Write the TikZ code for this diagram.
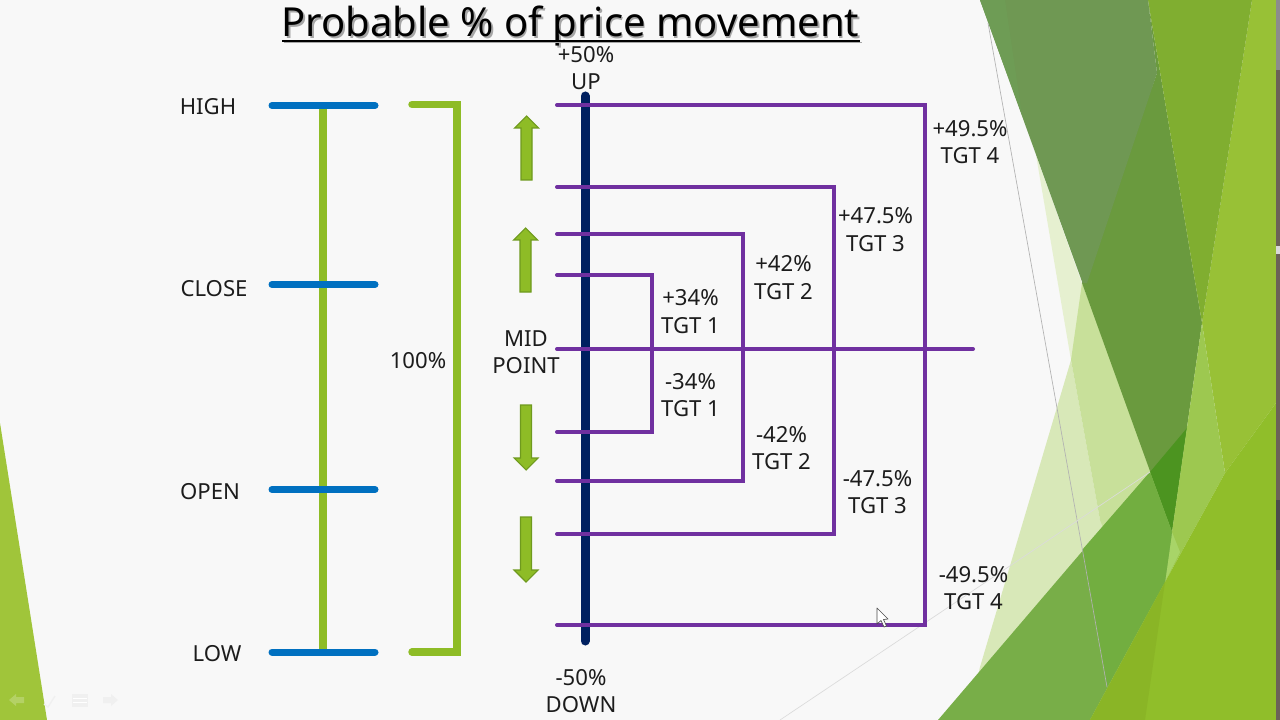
\documentclass[tikz,border=0pt]{standalone}
\usepackage{fontspec}
\setmainfont{Noto Sans}
\definecolor{bg}{HTML}{F8F8F8}
\definecolor{lime}{HTML}{8EBC26}
\definecolor{limeD}{HTML}{6F9A1E}
\definecolor{bluebar}{HTML}{0070C0}
\definecolor{navy}{HTML}{002060}
\definecolor{purp}{HTML}{7030A0}
\definecolor{ink}{HTML}{1C1C1C}
\definecolor{leftg}{HTML}{A0C53A}
\definecolor{olive}{HTML}{6F9853}
\definecolor{olivel}{HTML}{6E9C55}
\definecolor{midg}{HTML}{6A9A3E}
\definecolor{topg}{HTML}{80AE30}
\definecolor{brightg}{HTML}{98C136}
\definecolor{paleA}{HTML}{E6F0D0}
\definecolor{paleB}{HTML}{D8E8B8}
\definecolor{paleC}{HTML}{C8E09A}
\definecolor{lowg}{HTML}{78AE48}
\definecolor{lowgD}{HTML}{72AE40}
\definecolor{deepg}{HTML}{4C9420}
\definecolor{sliver}{HTML}{9DC850}
\definecolor{sliverL}{HTML}{A8D468}
\definecolor{lowb}{HTML}{90BE2A}
\definecolor{lowbD}{HTML}{8AB526}
\definecolor{strip}{HTML}{6B6258}
\tikzset{
  x=0.75pt,y=-0.75pt,
  lab/.style={font=\fontsize{16.6}{20.5}\selectfont,text=ink,align=center,inner sep=0pt},
  titletext/.style={font=\fontsize{30}{34}\selectfont,inner sep=0pt},
  bluetick/.style={draw=bluebar,line width=5.25pt,line cap=round},
  greenbar/.style={draw=lime,line width=5.6pt},
  purpline/.style={draw=purp,line width=3pt,line cap=round,line join=miter},
  navybar/.style={draw=navy,line width=6.75pt,line cap=round},
  blockarrow/.style={draw=limeD,line width=.8pt,fill=lime,line join=miter},
  navicon/.style={fill=black!6,draw=none},
  hairline/.style={draw=black!30,line width=.5pt},
}
% block arrow: centre x, tail y, tip y, head-base y
\newcommand{\blockarrowat}[4]{%
  \draw[blockarrow] (#1-5.5,#2) -- (#1-5.5,#4) -- (#1-12,#4) -- (#1,#3) -- (#1+12,#4) -- (#1+5.5,#4) -- (#1+5.5,#2) -- cycle;}
\begin{document}
\begin{tikzpicture}
\useasboundingbox (0,0) rectangle (1280,720);
% slide background
\fill[bg] (0,0) rectangle (1280,720);
% left decoration
\fill[leftg] (0,423) -- (47,720) -- (0,720) -- cycle;
% right decoration
\fill[paleA] (1036,155) -- (1095,320) -- (1071,360) -- cycle;
\fill[paleB] (1071,360) -- (1100,520) -- (1130,530) -- (975,690) -- (980,667) -- cycle;
\fill[paleC] (1082,283) -- (1170,520) -- (1104,530) -- (1100,520) -- (1071,360) -- cycle;
\fill[brightg] (1252,0) -- (1276,0) -- (1276,403) -- (1225,473) -- (1202,323) -- cycle;
\fill[midg] (1148,0) -- (1202,323) -- (1172,532) -- (1082,283) -- (1157,73) -- cycle;
\fill[topg] (1148,0) -- (1252,0) -- (1202,323) -- cycle;
\fill[olive] (980,0) -- (1148,0) -- (1157,73) -- (1087,283) -- (1082.5,283) -- cycle;
\fill[olivel] (980,0) -- (1005,0) -- (1022,115) -- cycle;
\fill[deepg] (1150,472) -- (1187,428) -- (1172,532) -- cycle;
\fill[sliver] (1202,323) -- (1225,473) -- (1165,582) -- (1172,532) -- cycle;
\fill[sliverL] (1172,532) -- (1180,552) -- (1165,582) -- cycle;
\fill[lowg] (938,720) -- (1150,472) -- (1172,532) -- (1165,582) -- (1090,720) -- cycle;
\fill[lowgD] (1082,550) -- (1150,472) -- (1172,532) -- (1165,582) -- (1107,687) -- cycle;
\fill[lowb] (1090,720) -- (1165,582) -- (1225,473) -- (1276,403) -- (1276,720) -- cycle;
\fill[lowbD] (1165,582) -- (1145,720) -- (1090,720) -- cycle;
\draw[hairline] (988,23) -- (1107,687);
\draw[hairline,draw=black!14] (780,720) -- (1150,472);
% strip at the right edge
\fill[strip] (1276,0) rectangle (1280,720);
\fill[black!45] (1276,0) rectangle (1280,70);
\fill[black!15] (1276,246) rectangle (1280,254);
\fill[black!70] (1276,500) rectangle (1280,570);
% faint slide-show controls
\fill[white,opacity=.22] (9,700) -- (16,694) -- (16,697) -- (24,697) -- (24,703) -- (16,703) -- (16,706) -- cycle;
\draw[black!6,line width=1pt] (44,704) -- (48,707) -- (55,696);
\fill[navicon] (72,694) rectangle (88,707);
\draw[white,line width=.6pt] (73,698) -- (87,698) (73,702) -- (87,702);
\fill[navicon] (118,700) -- (111,694) -- (111,697) -- (103,697) -- (103,703) -- (111,703) -- (111,706) -- cycle;

% title
\node[titletext,text=black!35] at (572,28) {Probable \% of price movement};
\node[titletext,text=black] (title) at (570.5,26.5) {Probable \% of price movement};
\coordinate (ulL) at (282,41);
\coordinate (ulR) at (860,41);
\draw[black!35,line width=1.2pt] ([shift={(1.5,1.5)}]ulL) -- ([shift={(1.5,1.5)}]ulR);
\draw[black,line width=1.4pt] (ulL) -- (ulR);

% left scale
\coordinate (hiL) at (272,105.5); \coordinate (hiR) at (375,105.5);
\coordinate (clL) at (272,284.5); \coordinate (clR) at (375,284.5);
\coordinate (opL) at (272,489.5); \coordinate (opR) at (375,489.5);
\coordinate (loL) at (272,652); \coordinate (loR) at (375,652);
\coordinate (stemT) at (323,105); \coordinate (stemB) at (323,652);
\draw[greenbar,line width=6pt] (stemT) -- (stemB);
\draw[bluetick] (hiL) -- (hiR);
\draw[bluetick] (clL) -- (clR);
\draw[bluetick] (opL) -- (opR);
\draw[bluetick] (loL) -- (loR);
\node[lab] (lHigh) at (208,106.5) {HIGH};
\node[lab] (lClose) at (214,288.5) {CLOSE};
\node[lab] (lOpen) at (210,491.5) {OPEN};
\node[lab] (lLow) at (217,653.5) {LOW};

% 100% bracket
\coordinate (brA) at (412,104.5); \coordinate (brB) at (457,104.5);
\coordinate (brC) at (457,652); \coordinate (brD) at (412,652);
\draw[greenbar,line cap=round,line join=miter] (brA) -- (brB) -- (brC) -- (brD);
\node[lab] (lHundred) at (418,360.5) {100\%};

% central axis
\coordinate (axT) at (585,96); \coordinate (axB) at (585,641);
\draw[navybar] (axT) -- (axB);

% target brackets
\coordinate (t4a) at (557,105); \coordinate (t4b) at (925,105);
\coordinate (t4c) at (925,625); \coordinate (t4d) at (557,625);
\coordinate (t3a) at (557,187); \coordinate (t3b) at (834,187);
\coordinate (t3c) at (834,534); \coordinate (t3d) at (557,534);
\coordinate (t2a) at (557,234); \coordinate (t2b) at (743,234);
\coordinate (t2c) at (743,481); \coordinate (t2d) at (557,481);
\coordinate (t1a) at (557,275); \coordinate (t1b) at (652,275);
\coordinate (t1c) at (652,432); \coordinate (t1d) at (557,432);
\coordinate (midL) at (557,349); \coordinate (midR) at (973,349);
\draw[purpline] (t4a) -- (t4b) -- (t4c) -- (t4d);
\draw[purpline] (t3a) -- (t3b) -- (t3c) -- (t3d);
\draw[purpline] (t2a) -- (t2b) -- (t2c) -- (t2d);
\draw[purpline] (t1a) -- (t1b) -- (t1c) -- (t1d);
\draw[purpline] (midL) -- (midR);

% block arrows
\blockarrowat{526.5}{180}{116}{128}
\blockarrowat{525.5}{292}{228}{240}
\blockarrowat{526}{405}{470}{458}
\blockarrowat{526}{517}{582}{570}

% labels
\node[lab] (lUp) at (586,68) {+50\%\\UP};
\node[lab] (lDown) at (581,691) {-50\%\\DOWN};
\node[lab] (lMid) at (526,352.5) {MID\\POINT};
\node[lab] (p4) at (970,142) {+49.5\%\\TGT 4};
\node[lab] (p3) at (875.5,229.5) {+47.5\%\\TGT 3};
\node[lab] (p2) at (783.5,277.5) {+42\%\\TGT 2};
\node[lab] (p1) at (690.5,311.5) {+34\%\\TGT 1};
\node[lab] (m1) at (690.5,395) {-34\%\\TGT 1};
\node[lab] (m2) at (781.5,448) {-42\%\\TGT 2};
\node[lab] (m3) at (877.5,492) {-47.5\%\\TGT 3};
\node[lab] (m4) at (973.5,588) {-49.5\%\\TGT 4};

% mouse pointer
\draw[black!70,fill=white,line width=.5pt,line join=round] (877,608) -- (877,624) -- (881,620.5) -- (884,627) -- (886.5,626) -- (883.5,619.5) -- (888,619) -- cycle;
\end{tikzpicture}
\end{document}
